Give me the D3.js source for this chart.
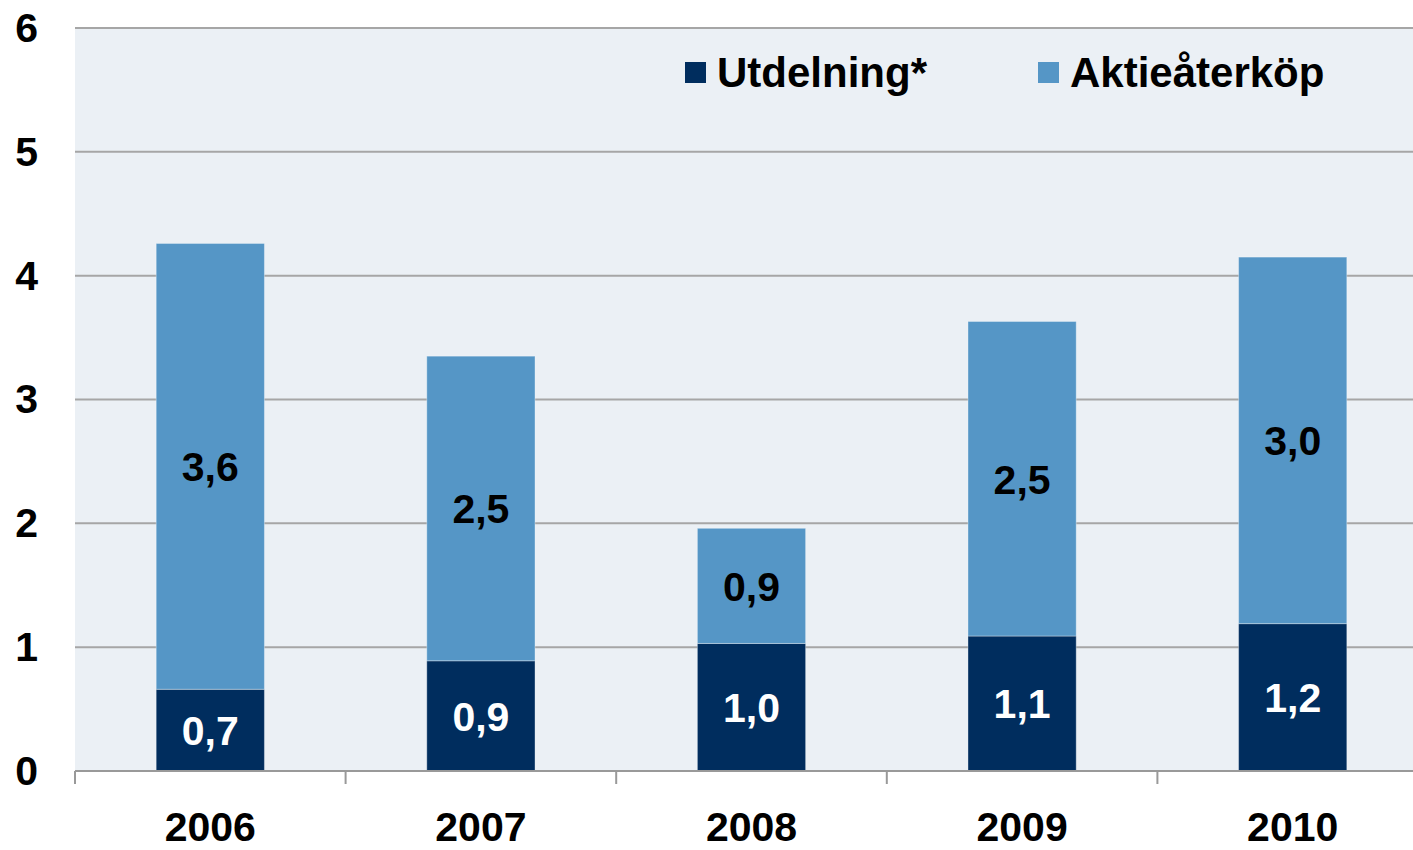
<!DOCTYPE html>
<html>
<head>
<meta charset="utf-8">
<script src="https://cdn.jsdelivr.net/npm/d3@7"></script>
<style>
html,body{margin:0;padding:0;background:#fff;}
svg{display:block;}
text{font-family:"Liberation Sans",Arial,sans-serif;font-weight:bold;}
</style>
</head>
<body>
<svg id="chart" width="1413" height="850"></svg>
<script>
const years = ["2006","2007","2008","2009","2010"];
const utdelning = [0.66, 0.89, 1.03, 1.09, 1.19];
const aktieaterkop = [3.60, 2.46, 0.93, 2.54, 2.96];
const yTicks = [0,1,2,3,4,5,6];
const seriesNames = ["Utdelning*", "Aktieåterköp"];
const colors = ["#002D5E", "#5596C6"];

(function () {
const W = 1413, H = 850;
const mLeft = 75, mTop = 28, mBottom = 771;
const svg = d3.select("#chart");
const fs = 41;

const x = d3.scaleBand().domain(years).range([mLeft, mLeft + 5*270.6]).paddingInner(0.6).paddingOuter(0.3);
const y = d3.scaleLinear().domain([0, 6]).range([mBottom, mTop]);

// plot background
svg.append("rect").attr("x", mLeft).attr("y", mTop).attr("width", W - mLeft).attr("height", mBottom - mTop).attr("fill", "#EBF0F5");

// gridlines
svg.append("g").selectAll("line").data(yTicks.filter(d => d > 0)).join("line")
  .attr("x1", mLeft).attr("x2", W).attr("y1", d => y(d)).attr("y2", d => y(d))
  .attr("stroke", "#A6A6A6").attr("stroke-width", 2);

// y labels
svg.append("g").selectAll("text").data(yTicks).join("text")
  .attr("x", 38).attr("y", d => y(d))
  .attr("text-anchor", "end").attr("dy", "0.34em")
  .attr("font-size", fs).attr("fill", "#000").text(d => d);

// stacked data
const table = years.map((yr, i) => ({year: yr, u: utdelning[i], a: aktieaterkop[i]}));
const stack = d3.stack().keys(["u", "a"])(table);

const g = svg.append("g");
stack.forEach((layer, li) => {
  g.append("g").selectAll("rect").data(layer).join("rect")
    .attr("x", d => x(d.data.year)).attr("width", x.bandwidth())
    .attr("y", d => y(d[1])).attr("height", d => y(d[0]) - y(d[1]))
    .attr("fill", colors[li]).attr("stroke", "rgba(255,255,255,0.35)").attr("stroke-width", 1);
  g.append("g").selectAll("text").data(layer).join("text")
    .attr("x", d => x(d.data.year) + x.bandwidth()/2)
    .attr("y", d => (y(d[0]) + y(d[1]))/2)
    .attr("text-anchor", "middle").attr("dy", "0.36em")
    .attr("font-size", fs).attr("fill", li === 0 ? "#fff" : "#000")
    .text(d => (d[1] - d[0]).toFixed(1).replace(".", ","));
});

// x axis line and ticks
svg.append("line").attr("x1", mLeft).attr("x2", W).attr("y1", mBottom).attr("y2", mBottom)
  .attr("stroke", "#999").attr("stroke-width", 2);
const step = x.step();
svg.append("g").selectAll("line").data(years).join("line")
  .attr("x1", d => x(d) + x.bandwidth()/2 - step/2).attr("x2", d => x(d) + x.bandwidth()/2 - step/2)
  .attr("y1", mBottom).attr("y2", mBottom + 13)
  .attr("stroke", "#999").attr("stroke-width", 2);

// x labels
svg.append("g").selectAll("text").data(years).join("text")
  .attr("x", d => x(d) + x.bandwidth()/2).attr("y", 841)
  .attr("text-anchor", "middle").attr("font-size", fs).attr("fill", "#000").text(d => d);

// legend
const legX = [685, 1038];
const leg = svg.append("g").selectAll("g").data(seriesNames).join("g");
leg.append("rect").attr("x", (d, i) => legX[i]).attr("y", 62).attr("width", 21).attr("height", 21)
  .attr("fill", (d, i) => colors[i]);
leg.append("text")
  .attr("x", (d, i) => legX[i] + 32).attr("y", 87)
  .attr("font-size", 42).attr("fill", "#000").text(d => d);
})();
</script>
</body>
</html>
